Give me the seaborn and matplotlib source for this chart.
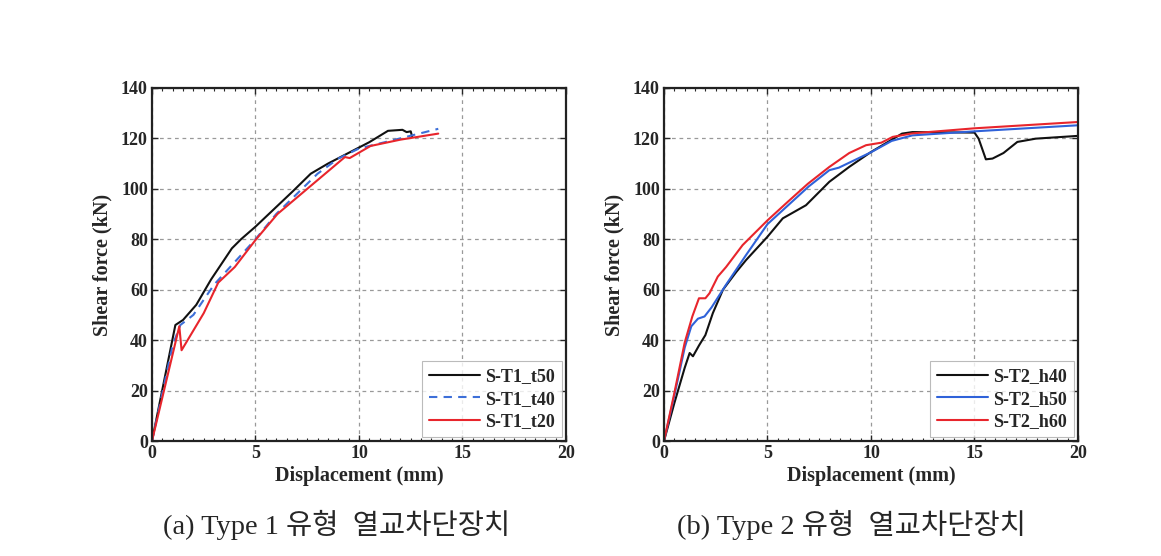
import numpy as np
import pandas as pd
import matplotlib
matplotlib.use("Agg")
import matplotlib.pyplot as plt
import seaborn as sns
from matplotlib.ticker import MultipleLocator

# ---- data ----
t50_x = [0, 1.13, 1.5, 2.14, 2.85, 3.86, 4.3, 5.0, 5.9, 6.8, 7.67, 8.5, 9.44, 10.5, 11.4, 12.1, 12.3, 12.5, 12.57]
t50_y = [0, 46, 48, 54, 64, 76.4, 80, 85, 92, 99, 106, 110, 114, 118.5, 123, 123.4, 122.5, 122.8, 120.6]
t40_x = [0, 1.0, 1.37, 2.0, 3.0, 4.0, 5.0, 6.0, 7.0, 8.0, 9.0, 10.0, 11.5, 13.83]
t40_y = [0, 38, 46, 50, 62, 71, 80, 90, 98, 106, 112, 116, 119, 123.8]
t20_x = [0, 1.32, 1.43, 2.5, 3.2, 4.0, 5.0, 6.06, 7.5, 9.32, 9.55, 10.56, 12.0, 13.83]
t20_y = [0, 45.5, 36, 50.7, 62.8, 69, 79.7, 90, 100, 112.6, 112.2, 117, 119.5, 121.9]

h40_x = [0, 0.5, 1.0, 1.24, 1.4, 1.7, 2.0, 2.36, 2.85, 3.49, 3.97, 5.0, 5.74, 6.86, 7.99, 8.95, 10.0, 11.5, 12.0,
         15.0, 15.2, 15.55, 15.87, 16.4, 17.07, 17.96, 20.0]
h40_y = [0, 15, 29, 34.9, 33.6, 38, 42, 50.7, 60, 67, 71.8, 81, 88.3, 93.5, 102.8, 108.7, 114.6, 121.9, 122.5,
         122.3, 119.9, 111.7, 112, 114.2, 118.6, 119.9, 121]
h50_x = [0, 0.5, 1.0, 1.32, 1.64, 1.96, 2.3, 3.0, 3.97, 5.0, 6.0, 7.0, 7.99, 8.45, 10.0, 11.0, 12.0, 15.0, 20.0]
h50_y = [0, 18, 37, 45.5, 48.5, 49.4, 53, 62, 73.8, 86, 93.5, 101, 107.4, 108.4, 114.5, 119, 121.2, 122.8, 125.2]
h60_x = [0, 0.5, 1.0, 1.37, 1.69, 2.0, 2.2, 2.6, 3.0, 3.8, 5.0, 6.0, 6.95, 7.99, 8.95, 9.76, 10.5, 11.05, 12.0, 15.0, 20.0]
h60_y = [0, 19, 39, 49.4, 56.6, 56.6, 58.6, 65.2, 69, 77.7, 87.5, 95, 102, 108.7, 114.2, 117.3, 118.3, 120.6, 122, 124, 126.5]

labels_a = ["S-T1_t50", "S-T1_t40", "S-T1_t20"]
labels_b = ["S-T2_h40", "S-T2_h50", "S-T2_h60"]
caption_a = "(a) Type 1 유형  열교차단장치"
caption_b = "(b) Type 2 유형  열교차단장치"

sns.set_theme(style="white")
plt.rcParams['font.family'] = ['Liberation Serif', 'Noto Sans CJK KR']

fig = plt.figure(figsize=(11.61, 5.56), dpi=100)
ax1 = fig.add_axes([0.1309, 0.2068, 0.3566, 0.635])
ax2 = fig.add_axes([0.5719, 0.2068, 0.3566, 0.635])


def frame(df_list, labels, colors, styles, ax):
    for (xs, ys), lab, c, ls in zip(df_list, labels, colors, styles):
        d = pd.DataFrame({"x": xs, "y": ys})
        sns.lineplot(data=d, x="x", y="y", ax=ax, color=c, linestyle=ls, lw=1.5,
                     label=lab, sort=False, estimator=None)
    ax.set_xlim(0, 20)
    ax.set_ylim(0, 140)
    ax.xaxis.set_major_locator(MultipleLocator(5))
    ax.xaxis.set_minor_locator(MultipleLocator(0.5))
    ax.yaxis.set_major_locator(MultipleLocator(20))
    ax.grid(True, which="major", color="#999999", linestyle=(0, (3, 3)), lw=0.9)
    ax.tick_params(which="both", direction="in", top=True, right=True, bottom=True, left=True)
    ax.tick_params(which="major", length=4, width=1, labelsize=13, pad=3)
    ax.tick_params(which="minor", length=2.5, width=0.8)
    for lbl in ax.get_xticklabels() + ax.get_yticklabels():
        lbl.set_fontweight("bold")
    for s in ax.spines.values():
        s.set_color("#222222")
        s.set_linewidth(1.6)
    ax.set_xlabel("Displacement (mm)", fontsize=14.5, fontweight="bold", labelpad=3)
    ax.set_ylabel("Shear force (kN)", fontsize=14.5, fontweight="bold", labelpad=6)
    leg = ax.legend(loc="lower right", frameon=True, fancybox=False,
                    prop={"weight": "bold", "size": 13}, handlelength=2.8,
                    borderaxespad=0.2, labelspacing=0.3, handletextpad=0.3)
    leg.get_frame().set_edgecolor("#aaaaaa")
    leg.get_frame().set_linewidth(0.8)


frame([(t50_x, t50_y), (t40_x, t40_y), (t20_x, t20_y)], labels_a,
      ["#111111", "#3d6fd8", "#e8252c"], ["-", (0, (4, 3)), "-"], ax1)
frame([(h40_x, h40_y), (h50_x, h50_y), (h60_x, h60_y)], labels_b,
      ["#111111", "#2f62d9", "#e8252c"], ["-", "-", "-"], ax2)

fig.text(0.290, 0.056, caption_a, ha="center", va="center", fontsize=20.5)
fig.text(0.733, 0.056, caption_b, ha="center", va="center", fontsize=20.5)

fig.savefig("out.png", dpi=100)
